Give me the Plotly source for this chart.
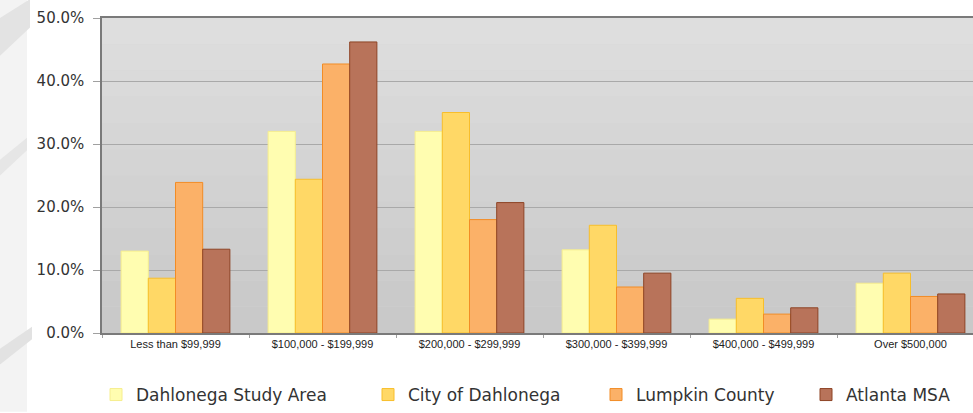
import plotly.graph_objects as go

categories = ["Less than $99,999", "$100,000 - $199,999", "$200,000 - $299,999",
              "$300,000 - $399,999", "$400,000 - $499,999", "Over $500,000"]
study_area = [13.0, 32.0, 32.0, 13.2, 2.2, 7.9]
city = [8.7, 24.4, 35.0, 17.1, 5.5, 9.5]
lumpkin = [23.9, 42.7, 18.0, 7.3, 3.0, 5.8]
atlanta = [13.3, 46.2, 20.7, 9.5, 4.0, 6.2]
series_names = ["Dahlonega Study Area", "City of Dahlonega", "Lumpkin County", "Atlanta MSA"]
y_ticks = [0, 10, 20, 30, 40, 50]

colors = ["#FFFDB0", "#FFD866", "#FBB168", "#B8735A"]
edges = ["#F6EE8E", "#F8BE2A", "#F28C25", "#8E4425"]
legend_ids = ["legend", "legend2", "legend3", "legend4"]
legend_px = [96, 368, 596, 806]

PW, PH = 871, 316

fig = go.Figure()
for name, vals, c, e, lg in zip(series_names, [study_area, city, lumpkin, atlanta], colors, edges, legend_ids):
    fig.add_trace(go.Bar(x=categories, y=vals, name=name, legend=lg,
                         marker=dict(color=c, line=dict(color=e, width=1))))

shapes = []
# plot background gradient bands
n = 12
for i in range(n):
    g = int(0xDE - (0xDE - 0xC9) * i / (n - 1))
    shapes.append(dict(type="rect", xref="paper", yref="paper", x0=0, x1=1,
                       y0=1 - (i + 1) / n, y1=1 - i / n,
                       fillcolor=f"rgb({g},{g},{g})", line_width=0, layer="below"))
# decorative streaks on left background
shapes += [
    dict(type="rect", xref="paper", yref="paper", x0=-102/PW, x1=-75/PW, y0=-79/PH, y1=1+18/PH,
         fillcolor="#F3F3F3", line_width=0, layer="below"),
    dict(type="path", xref="paper", yref="paper",
         path=f"M {-102/PW} {1.0} L {-72/PW} {1.06} L {-72/PW} {0.97} L {-102/PW} {0.88} Z",
         fillcolor="#E3E3E3", line_width=0, layer="below"),
    dict(type="path", xref="paper", yref="paper",
         path=f"M {-102/PW} {0.55} L {-75/PW} {0.62} L {-75/PW} {0.58} L {-102/PW} {0.5} Z",
         fillcolor="#E6E6E6", line_width=0, layer="below"),
    dict(type="path", xref="paper", yref="paper",
         path=f"M {-102/PW} {-0.05} L {-70/PW} {0.02} L {-70/PW} {-0.02} L {-102/PW} {-0.1} Z",
         fillcolor="#E2E2E2", line_width=0, layer="below"),
]

legend_style = dict(orientation="h", xanchor="left", y=-0.196, yanchor="middle",
                    font=dict(family="DejaVu Sans", size=17, color="#333333"),
                    bgcolor="rgba(0,0,0,0)", itemwidth=30)
legends = {}
for lg, px in zip(legend_ids, legend_px):
    legends[lg] = dict(legend_style, x=(px - 102) / PW)

fig.update_layout(
    width=973, height=413,
    margin=dict(l=102, r=0, t=18, b=79),
    paper_bgcolor="white",
    plot_bgcolor="#D4D4D4",
    barmode="group",
    bargap=0.26,
    bargroupgap=0,
    shapes=shapes,
    showlegend=True,
    font=dict(family="Liberation Sans", color="#222222"),
    **legends,
)
fig.update_xaxes(
    range=[-0.5, -0.5 + PW / 147],
    showgrid=False,
    showline=True, linecolor="#7A7A7A", linewidth=1.5, mirror=True,
    ticks="outside", ticklen=3, tickcolor="#A0A0A0",
    tickson="boundaries",
    tickfont=dict(family="Liberation Sans", size=11, color="#222222"),
)
fig.update_yaxes(
    range=[0, 50],
    tickvals=y_ticks,
    ticktext=[f"{v:.1f}%" for v in y_ticks],
    showgrid=True, gridcolor="#A9A9A9", gridwidth=1,
    showline=True, linecolor="#7A7A7A", linewidth=1.5,
    ticks="outside", ticklen=7, tickcolor="#A0A0A0",
    ticklabelstandoff=6,
    tickfont=dict(family="DejaVu Sans", size=15, color="#333333"),
    zeroline=False,
)
fig.write_html("out.html")
